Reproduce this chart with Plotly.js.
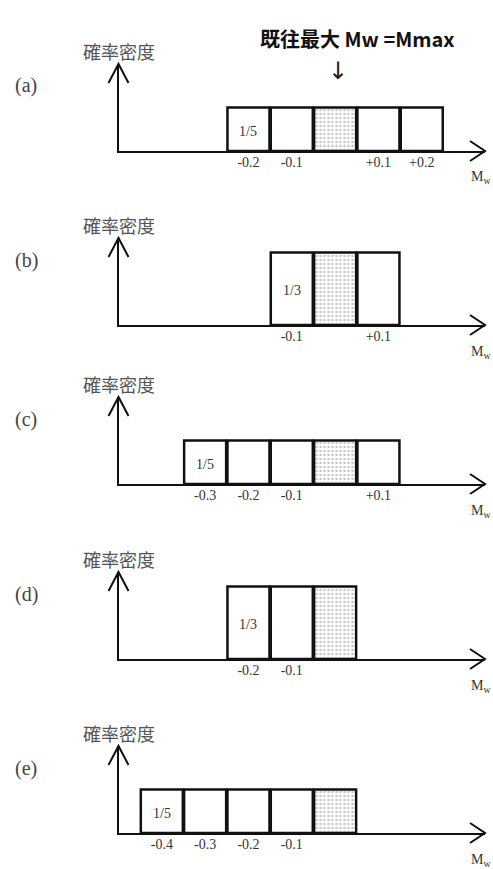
<!DOCTYPE html>
<html>
<head>
<meta charset="utf-8">
<script src="https://cdn.plot.ly/plotly-3.0.1.min.js"></script>
<style>
  html, body { margin: 0; padding: 0; background: #fff; }
  #chart { width: 493px; height: 869px; }
</style>
</head>
<body>
<div id="chart"></div>
<script>
// Mw offsets from Mmax (bar centres) and probability density per bar, one list per case
const panelLabels = ['(a)', '(b)', '(c)', '(d)', '(e)'];
const offsetsA = [-0.2, -0.1, 0, 0.1, 0.2];
const offsetsB = [-0.1, 0, 0.1];
const offsetsC = [-0.3, -0.2, -0.1, 0, 0.1];
const offsetsD = [-0.2, -0.1, 0];
const offsetsE = [-0.4, -0.3, -0.2, -0.1, 0];
const densityA = [1/5, 1/5, 1/5, 1/5, 1/5];
const densityB = [1/3, 1/3, 1/3];
const densityC = [1/5, 1/5, 1/5, 1/5, 1/5];
const densityD = [1/3, 1/3, 1/3];
const densityE = [1/5, 1/5, 1/5, 1/5, 1/5];
const fractionLabels = ['1/5', '1/3', '1/5', '1/3', '1/5'];
const tickTextA = ['-0.2', '-0.1', '+0.1', '+0.2'];
const tickTextB = ['-0.1', '+0.1'];
const tickTextC = ['-0.3', '-0.2', '-0.1', '+0.1'];
const tickTextD = ['-0.2', '-0.1'];
const tickTextE = ['-0.4', '-0.3', '-0.2', '-0.1'];

const offsets = [offsetsA, offsetsB, offsetsC, offsetsD, offsetsE];
const densities = [densityA, densityB, densityC, densityD, densityE];
const tickTexts = [tickTextA, tickTextB, tickTextC, tickTextD, tickTextE];

// layout geometry (pixels)
const W = 493, H = 869;
const baselines = [151, 325, 484, 659, 833];
const axisHeightPx = 87;
const xRange = [-0.5, 0.346];
const yTop = 0.4;
const xDomain = [118.5 / W, 485 / W];

const ink = '#111';
const serif = 'Liberation Serif, DejaVu Serif, serif';
const cjk = 'Noto Sans CJK JP, sans-serif';

const traces = [];
const layout = {
    width: W,
    height: H,
    margin: { l: 0, r: 0, t: 0, b: 0 },
    paper_bgcolor: '#fff',
    plot_bgcolor: 'rgba(0,0,0,0)',
    showlegend: false,
    bargap: 0,
    shapes: [],
    annotations: []
};

offsets.forEach((xs, i) => {
    const s = i === 0 ? '' : String(i + 1);
    traces.push({
        type: 'bar',
        x: xs,
        y: densities[i],
        width: 0.097,
        xaxis: 'x' + s,
        yaxis: 'y' + s,
        marker: {
            color: '#fff',
            line: { color: ink, width: 2.5 },
            pattern: {
                shape: xs.map(v => (v === 0 ? '.' : '')),
                fgcolor: '#c4c4c4',
                bgcolor: '#fff',
                size: 4,
                solidity: 0.3
            }
        },
        hoverinfo: 'skip'
    });

    const bottom = (H - baselines[i]) / H;
    const top = (H - baselines[i] + axisHeightPx) / H;
    const ticks = xs.filter(v => v !== 0);

    layout['xaxis' + s] = {
        domain: xDomain,
        range: xRange,
        anchor: 'y' + s,
        showline: true,
        linecolor: ink,
        linewidth: 2,
        showgrid: false,
        zeroline: false,
        ticks: '',
        tickvals: ticks,
        ticktext: tickTexts[i],
        ticklabelstandoff: -3,
        tickfont: { family: serif, size: 14, color: '#333' },
        fixedrange: true
    };
    layout['yaxis' + s] = {
        domain: [bottom, top],
        range: [0, yTop],
        anchor: 'x' + s,
        showline: true,
        linecolor: ink,
        linewidth: 2,
        showgrid: false,
        zeroline: false,
        showticklabels: false,
        ticks: '',
        fixedrange: true
    };

    // open arrow heads on both axes (paper refs so they are not clipped)
    layout.shapes.push({
        type: 'path', xref: 'paper', yref: 'paper',
        xsizemode: 'pixel', ysizemode: 'pixel',
        xanchor: xDomain[1], yanchor: bottom,
        path: 'M-15,10 L0,0 L-15,-10',
        line: { color: ink, width: 2 }
    });
    layout.shapes.push({
        type: 'path', xref: 'paper', yref: 'paper',
        xsizemode: 'pixel', ysizemode: 'pixel',
        xanchor: xDomain[0], yanchor: top,
        path: 'M-10,-19 L0,0 L10,-19',
        line: { color: ink, width: 2 }
    });

    layout.annotations.push({
        text: fractionLabels[i],
        xref: 'x' + s, x: xs[0],
        yref: 'y' + s, y: densities[i][0] / 2,
        yshift: -2,
        showarrow: false,
        font: { family: serif, size: 14, color: '#333' }
    });
    layout.annotations.push({
        text: '確率密度',
        xref: 'x' + s, x: xRange[0],
        yref: 'y' + s, y: yTop,
        yanchor: 'bottom', yshift: -2,
        showarrow: false,
        font: { family: cjk, size: 18, color: '#555' }
    });
    layout.annotations.push({
        text: panelLabels[i],
        xref: 'paper', x: 26 / W, xanchor: 'center',
        yref: 'y' + s, y: yTop,
        yshift: -22,
        showarrow: false,
        font: { family: serif, size: 20, color: '#444' }
    });
    layout.annotations.push({
        text: 'M<sub>w</sub>',
        xref: 'x' + s, x: xRange[1],
        yref: 'y' + s, y: 0,
        yshift: -27, xshift: -4,
        showarrow: false,
        font: { family: serif, size: 14, color: '#333' }
    });
});

// heading over the Mmax bar of case (a)
layout.annotations.push({
    text: '<b>既往最大 Mw =Mmax</b>',
    xref: 'paper', x: 357 / W, xanchor: 'center',
    yref: 'paper', y: 1 - 22 / H,
    showarrow: false,
    font: { family: cjk, size: 20, color: '#111' }
});
layout.annotations.push({
    text: '↓',
    xref: 'x', x: 0, xanchor: 'center',
    yref: 'paper', y: 1 - 55 / H,
    xshift: 3,
    showarrow: false,
    font: { family: 'DejaVu Sans, sans-serif', size: 24, color: '#222' }
});

Plotly.newPlot('chart', traces, layout, { displayModeBar: false, staticPlot: true });
</script>
</body>
</html>
